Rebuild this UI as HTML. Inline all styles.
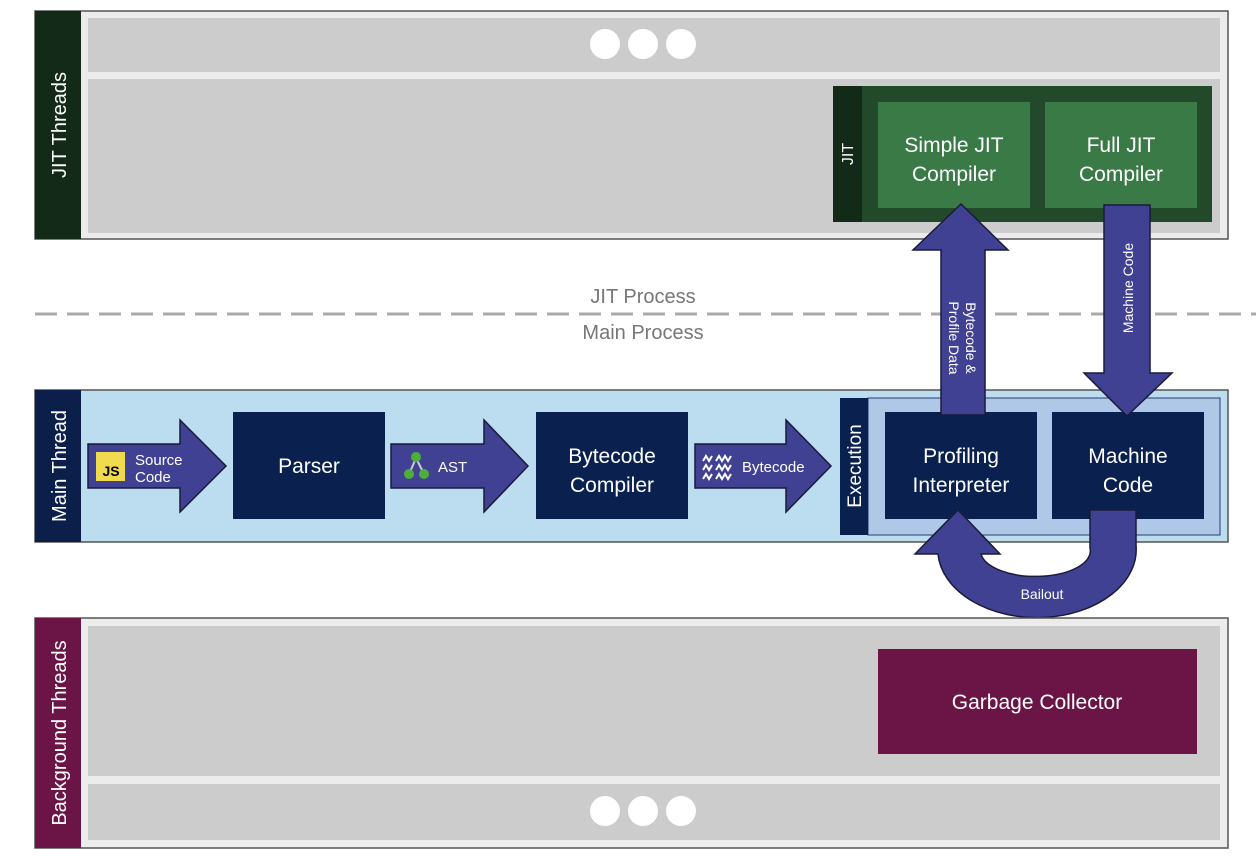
<!DOCTYPE html>
<html><head><meta charset="utf-8"><style>
html,body{margin:0;padding:0;background:#fff;}
svg{display:block;font-family:"Liberation Sans",sans-serif;}
</style></head><body>
<svg width="1256" height="866" viewBox="0 0 1256 866" xmlns="http://www.w3.org/2000/svg">
<rect x="35" y="11" width="1193" height="228" fill="#ececec" stroke="#555" stroke-width="1.5"/>
<rect x="35" y="11" width="46" height="228" fill="#142a18"/>
<text transform="translate(66,125) rotate(-90)" text-anchor="middle" fill="#fff" font-size="20">JIT Threads</text>
<rect x="88" y="18" width="1132" height="54" fill="#cccccc"/>
<rect x="88" y="79" width="1132" height="154" fill="#cccccc"/>
<circle cx="605" cy="44" r="15" fill="#fff"/><circle cx="643" cy="44" r="15" fill="#fff"/><circle cx="681" cy="44" r="15" fill="#fff"/>
<rect x="833" y="86" width="379" height="136" fill="#21492a"/>
<rect x="833" y="86" width="29" height="136" fill="#142a18"/>
<text transform="translate(853,154) rotate(-90)" text-anchor="middle" fill="#fff" font-size="16">JIT</text>
<rect x="878" y="102" width="152" height="106" fill="#3a7a46"/>
<rect x="1045" y="102" width="152" height="106" fill="#3a7a46"/>
<text x="954" y="152" text-anchor="middle" fill="#fff" font-size="21">Simple JIT</text>
<text x="954" y="181" text-anchor="middle" fill="#fff" font-size="21">Compiler</text>
<text x="1121" y="152" text-anchor="middle" fill="#fff" font-size="21">Full JIT</text>
<text x="1121" y="181" text-anchor="middle" fill="#fff" font-size="21">Compiler</text>
<line x1="35" y1="314" x2="1256" y2="314" stroke="#aaa" stroke-width="3" stroke-dasharray="22,10"/>
<text x="643" y="303" text-anchor="middle" fill="#777" font-size="20">JIT Process</text>
<text x="643" y="339" text-anchor="middle" fill="#777" font-size="20">Main Process</text>
<rect x="35" y="390" width="1193" height="152" fill="#bcdcf0" stroke="#555" stroke-width="1.5"/>
<rect x="35" y="390" width="46" height="152" fill="#0b1f4a"/>
<text transform="translate(66,466) rotate(-90)" text-anchor="middle" fill="#fff" font-size="20">Main Thread</text>
<rect x="233" y="412" width="152" height="107" fill="#0a2150"/>
<text x="309" y="473" text-anchor="middle" fill="#fff" font-size="21">Parser</text>
<rect x="536" y="412" width="152" height="107" fill="#0a2150"/>
<text x="612" y="463" text-anchor="middle" fill="#fff" font-size="21">Bytecode</text>
<text x="612" y="492" text-anchor="middle" fill="#fff" font-size="21">Compiler</text>
<rect x="868" y="398" width="352" height="137" fill="#afc8e8" stroke="#2a3a70" stroke-width="1"/>
<rect x="840" y="398" width="28" height="137" fill="#0a2150"/>
<text transform="translate(861,466) rotate(-90)" text-anchor="middle" fill="#fff" font-size="19">Execution</text>
<rect x="885" y="412" width="152" height="107" fill="#0a2150"/>
<text x="961" y="463" text-anchor="middle" fill="#fff" font-size="21">Profiling</text>
<text x="961" y="492" text-anchor="middle" fill="#fff" font-size="21">Interpreter</text>
<rect x="1052" y="412" width="152" height="107" fill="#0a2150"/>
<text x="1128" y="463" text-anchor="middle" fill="#fff" font-size="21">Machine</text>
<text x="1128" y="492" text-anchor="middle" fill="#fff" font-size="21">Code</text>
<g fill="#414194" stroke="#1a1a3a" stroke-width="1.5">
<path d="M88,444 L180,444 L180,420 L226,466 L180,512 L180,488 L88,488 Z"/>
<path d="M391,444 L484,444 L484,420 L528,466 L484,512 L484,488 L391,488 Z"/>
<path d="M695,444 L786,444 L786,420 L831,466 L786,512 L786,488 L695,488 Z"/>
<path d="M941,415 L941,250 L913,250 L961,204 L1008,250 L985,250 L985,415 Z"/>
<path d="M1104,205 L1150,205 L1150,373 L1172,373 L1127,416 L1084,373 L1104,373 Z"/>
<path d="M1090,510 L1136,510 L1136,545 A99,68 0 0 1 938,554 L915,554 L958,510 L1000,554 L981,554 A54,25 0 0 0 1090,548 Z"/>
</g>
<rect x="96" y="452" width="29" height="29" fill="#f0db4f"/>
<text x="111" y="476" text-anchor="middle" fill="#000" font-size="14" font-weight="bold">JS</text>
<text x="135" y="465" fill="#fff" font-size="15">Source</text>
<text x="135" y="482" fill="#fff" font-size="15">Code</text>
<g stroke="#ccc" stroke-width="2"><line x1="416" y1="458" x2="410" y2="472"/><line x1="416" y1="458" x2="423" y2="472"/></g>
<circle cx="416" cy="457" r="5" fill="#4caf3a"/><circle cx="409" cy="474" r="5" fill="#4caf3a"/><circle cx="424" cy="474" r="5" fill="#4caf3a"/>
<text x="438" y="472" fill="#fff" font-size="15">AST</text>
<g fill="none" stroke="#fff" stroke-width="2">
<polyline points="703,461 706,456 709,461 712,456"/><polyline points="716,461 719,456 722,461 725,456 728,461 731,456"/>
<polyline points="703,470 706,465 709,470 712,465"/><polyline points="716,470 719,465 722,470 725,465 728,470 731,465"/>
<polyline points="703,479 706,474 709,479 712,474"/><polyline points="716,479 719,474 722,479 725,474 728,479 731,474"/>
</g>
<text x="742" y="472" fill="#fff" font-size="15">Bytecode</text>
<text transform="translate(966,338) rotate(90)" text-anchor="middle" fill="#fff" font-size="14">Bytecode &amp;</text>
<text transform="translate(949,338) rotate(90)" text-anchor="middle" fill="#fff" font-size="14">Profile Data</text>
<text transform="translate(1133,288) rotate(-90)" text-anchor="middle" fill="#fff" font-size="14">Machine Code</text>
<text x="1042" y="599" text-anchor="middle" fill="#fff" font-size="14">Bailout</text>
<rect x="35" y="618" width="1193" height="230" fill="#ececec" stroke="#555" stroke-width="1.5"/>
<rect x="35" y="618" width="46" height="230" fill="#6b1547"/>
<text transform="translate(66,733) rotate(-90)" text-anchor="middle" fill="#fff" font-size="20">Background Threads</text>
<rect x="88" y="626" width="1132" height="150" fill="#cccccc"/>
<rect x="88" y="784" width="1132" height="56" fill="#cccccc"/>
<circle cx="605" cy="811" r="15" fill="#fff"/><circle cx="643" cy="811" r="15" fill="#fff"/><circle cx="681" cy="811" r="15" fill="#fff"/>
<rect x="878" y="649" width="319" height="105" fill="#6b1547"/>
<text x="1037" y="709" text-anchor="middle" fill="#fff" font-size="21">Garbage Collector</text>
</svg>
</body></html>
